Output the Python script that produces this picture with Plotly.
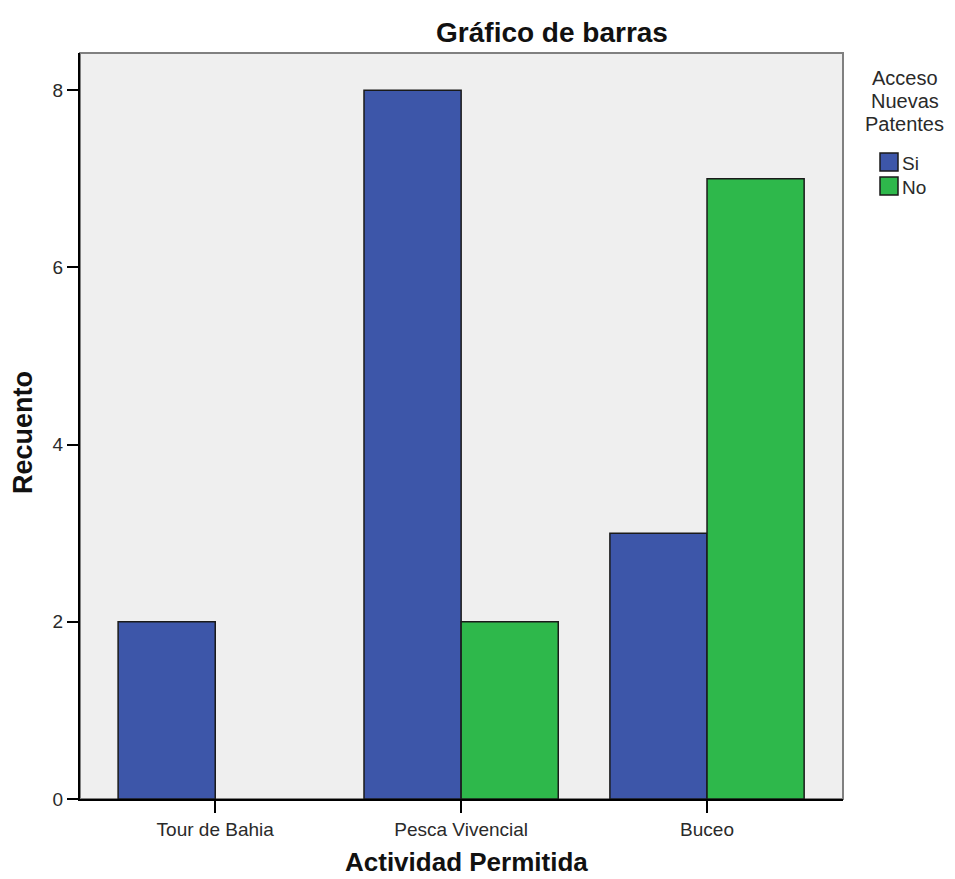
import plotly.graph_objects as go

# Data
categorias = ['Tour de Bahia', 'Pesca Vivencial', 'Buceo']
series = ['Si', 'No']
si = [2, 8, 3]
no = [None, 2, 7]   # no hay barra "No" para Tour de Bahia

azul = '#3D56A9'
verde = '#2EB84B'
borde = '#1a1a1a'

fig = go.Figure()
fig.add_trace(go.Bar(x=categorias, y=si, name=series[0],
                     marker={'color': azul, 'line': {'color': borde, 'width': 1.5}}))
fig.add_trace(go.Bar(x=categorias, y=no, name=series[1],
                     marker={'color': verde, 'line': {'color': borde, 'width': 1.5}}))

# plot area in figure pixels: x 72..835, y 45..791 (page has 8px body margin)
W, H = 947, 871
fig.update_layout(
    width=W, height=H,
    margin={'l': 72, 'r': 112, 't': 45, 'b': 80},
    paper_bgcolor='white', plot_bgcolor='#EFEFEF',
    font={'family': 'Liberation Sans, Arial', 'size': 19, 'color': '#2a2a2a'},
    barmode='group', bargap=0.21, bargroupgap=0,
    showlegend=False,
    title={'text': '<b>Gráfico de barras</b>', 'xref': 'container', 'x': 544 / W,
           'xanchor': 'center', 'yref': 'container', 'y': 1 - 24 / H, 'yanchor': 'middle',
           'font': {'size': 28, 'color': '#111'}},
)

def px_x(fx):
    return (fx - 72) / 763

def px_y(fy):
    return (791 - fy) / 746

# axis titles
fig.add_annotation(text='<b>Actividad Permitida</b>', xref='paper', yref='paper',
                   x=px_x(458), y=px_y(854), xanchor='center', yanchor='middle',
                   showarrow=False, font={'size': 26, 'color': '#111'})
fig.add_annotation(text='<b>Recuento</b>', xref='paper', yref='paper', textangle=-90,
                   x=px_x(15), y=px_y(425), xanchor='center', yanchor='middle',
                   showarrow=False, font={'size': 27, 'color': '#111'})

# legend (title centred on three lines, square swatches)
for txt, fy in zip(['Acceso', 'Nuevas', 'Patentes'], [70, 93, 116]):
    fig.add_annotation(text=txt, xref='paper', yref='paper', x=px_x(897), y=px_y(fy),
                       xanchor='center', yanchor='middle', showarrow=False, borderpad=0,
                       font={'size': 20, 'color': '#2a2a2a'})
for nombre, color, fy in zip(series, [azul, verde], [154, 178]):
    fig.add_shape(type='rect', xref='paper', yref='paper',
                  x0=px_x(872), x1=px_x(890), y0=px_y(fy + 9), y1=px_y(fy - 9),
                  fillcolor=color, line={'color': borde, 'width': 1.5})
    fig.add_annotation(text=nombre, xref='paper', yref='paper', x=px_x(892), y=px_y(fy + 1),
                       xanchor='left', yanchor='middle', showarrow=False,
                       font={'size': 19, 'color': '#2a2a2a'})

fig.update_xaxes(range=[-0.55, 2.553], showline=True, linecolor='black', linewidth=2,
                 ticks='outside', ticklen=12, tickwidth=1.5, tickcolor='black', showgrid=False)
fig.update_yaxes(range=[0, 8.42], dtick=2, showline=True, linecolor='black', linewidth=2,
                 ticks='outside', ticklen=11, tickwidth=1.5, tickcolor='black', showgrid=False,
                 zeroline=False)

# gray frame on top and right of plot area
fig.add_shape(type='rect', xref='paper', yref='paper', x0=0, x1=1, y0=0, y1=1,
              line={'color': '#808080', 'width': 2}, layer='below')

fig.write_html('out.html')
